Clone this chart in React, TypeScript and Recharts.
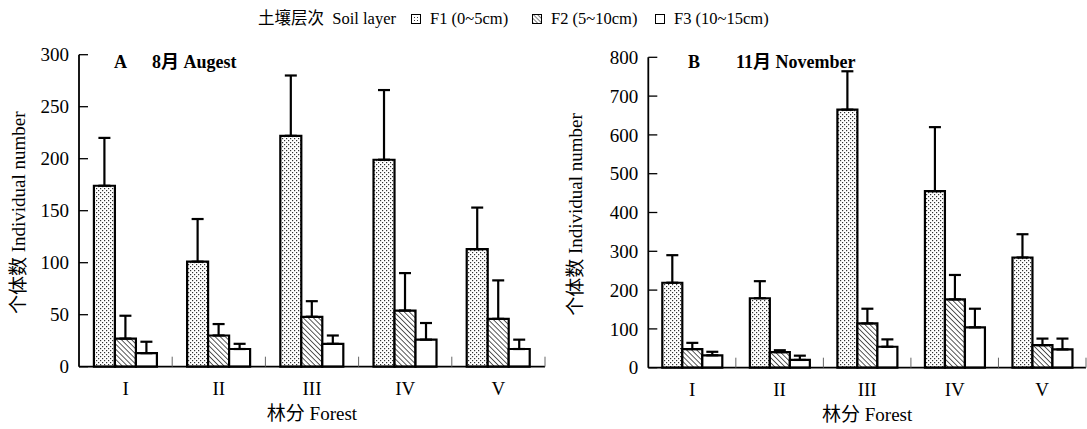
import { Bar, BarChart, ErrorBar, XAxis, YAxis } from "recharts";

const forests = ["I", "II", "III", "IV", "V"];

// August
const augF1 = [174, 101, 222, 199, 113];
const augF1Sd = [46, 41, 58, 67, 40];
const augF2 = [27, 30, 48, 54, 46];
const augF2Sd = [22, 11, 15, 36, 37];
const augF3 = [13, 17, 22, 26, 17];
const augF3Sd = [11, 5, 8, 16, 9];

// November
const novF1 = [219, 179, 665, 455, 284];
const novF1Sd = [71, 44, 99, 165, 60];
const novF2 = [48, 40, 114, 176, 58];
const novF2Sd = [16, 5, 38, 63, 17];
const novF3 = [32, 20, 54, 104, 47];
const novF3Sd = [9, 11, 19, 48, 28];

const augTicks = [0, 50, 100, 150, 200, 250, 300];
const novTicks = [0, 100, 200, 300, 400, 500, 600, 700, 800];

const font = "'Liberation Serif', 'Noto Sans CJK SC', serif";

type Row = {
  forest: string;
  f1: number;
  f2: number;
  f3: number;
  e1: number[];
  e2: number[];
  e3: number[];
};

function buildRows(
  f1: number[], s1: number[], f2: number[], s2: number[], f3: number[], s3: number[]
): Row[] {
  return forests.map((forest, i) => ({
    forest,
    f1: f1[i],
    f2: f2[i],
    f3: f3[i],
    // only the upper half of the error bar is drawn
    e1: [0, s1[i]],
    e2: [0, s2[i]],
    e3: [0, s3[i]],
  }));
}

const augData = buildRows(augF1, augF1Sd, augF2, augF2Sd, augF3, augF3Sd);
const novData = buildRows(novF1, novF1Sd, novF2, novF2Sd, novF3, novF3Sd);

const YTick = (props: any) => {
  const { x, y, payload } = props;
  return (
    <g>
      <line x1={x} x2={x + 9} y1={y} y2={y} stroke="#000" strokeWidth={1.3} />
      <text
        x={x - 10}
        y={y}
        dy="0.35em"
        textAnchor="end"
        fontSize={19}
        fontFamily={font}
        fill="#000"
      >
        {payload.value}
      </text>
    </g>
  );
};

const makeXTick = (band: number) => (props: any) => {
  const { x, y, payload } = props;
  return (
    <g>
      <line
        x1={x + band / 2}
        x2={x + band / 2}
        y1={y}
        y2={y - 10}
        stroke="#666"
        strokeWidth={1}
      />
      <text
        x={x}
        y={y + 28}
        textAnchor="middle"
        fontSize={19}
        fontFamily={font}
        fill="#000"
      >
        {payload.value}
      </text>
    </g>
  );
};

const Patterns = ({ id }: { id: string }) => (
  <defs>
    <pattern id={`dots${id}`} width={4} height={4} patternUnits="userSpaceOnUse">
      <rect width={4} height={4} fill="#fff" />
      <rect x={0} y={0} width={1.2} height={1.2} fill="#333" />
      <rect x={2} y={2} width={1.2} height={1.2} fill="#333" />
    </pattern>
    <pattern
      id={`hatch${id}`}
      width={3.6}
      height={3.6}
      patternUnits="userSpaceOnUse"
      patternTransform="rotate(-45)"
    >
      <rect width={3.6} height={3.6} fill="#fff" />
      <line x1={0} y1={0} x2={0} y2={3.6} stroke="#000" strokeWidth={1.3} />
    </pattern>
  </defs>
);

type PanelProps = {
  id: string;
  data: Row[];
  ticks: number[];
  max: number;
  width: number;
  axisWidth: number;
  top: number;
  bottom: number;
  right: number;
  labelX: number;
};

function Panel({ id, data, ticks, max, width, axisWidth, top, bottom, right, labelX }: PanelProps) {
  const plotWidth = width - axisWidth - right;
  const band = plotWidth / forests.length;
  const series = [
    { key: "f1", err: "e1", fill: `url(#dots${id})` },
    { key: "f2", err: "e2", fill: `url(#hatch${id})` },
    { key: "f3", err: "e3", fill: "#fff" },
  ];
  return (
    <BarChart
      width={width}
      height={429}
      data={data}
      margin={{ top, right, bottom, left: 0 }}
      barCategoryGap="16%"
      barGap={0}
    >
      <Patterns id={id} />
      <XAxis
        dataKey="forest"
        height={60}
        axisLine={{ stroke: "#000", strokeWidth: 1.8 }}
        tickLine={false}
        tickSize={0}
        tickMargin={0}
        interval={0}
        tick={makeXTick(band)}
        label={{
          content: (p: any) => {
            const vb = p.viewBox;
            return (
              <text
                x={vb.x + vb.width / 2}
                y={vb.y + 53}
                textAnchor="middle"
                fontSize={19}
                fontFamily={font}
                fill="#000"
              >
                林分 Forest
              </text>
            );
          },
        }}
      />
      <YAxis
        width={axisWidth}
        domain={[0, max]}
        ticks={ticks}
        interval={0}
        axisLine={{ stroke: "#000", strokeWidth: 1.8 }}
        tickLine={false}
        tickSize={0}
        tickMargin={0}
        tick={YTick}
        label={{
          content: (p: any) => {
            const vb = p.viewBox;
            const cx = vb.x + labelX;
            const cy = vb.y + vb.height / 2 + 2;
            return (
              <text
                x={cx}
                y={cy}
                transform={`rotate(-90 ${cx} ${cy})`}
                textAnchor="middle"
                dy="0.35em"
                fontSize={19}
                fontFamily={font}
                fill="#000"
              >
                个体数 Individual number
              </text>
            );
          },
        }}
      />
      {series.map((s) => (
        <Bar
          key={s.key}
          dataKey={s.key}
          fill={s.fill}
          stroke="#000"
          strokeWidth={2.2}
          isAnimationActive={false}
        >
          <ErrorBar
            dataKey={s.err}
            direction="y"
            width={6}
            stroke="#000"
            strokeWidth={2.2}
            isAnimationActive={false}
          />
        </Bar>
      ))}
    </BarChart>
  );
}

const Swatch = ({ kind }: { kind: string }) => (
  <svg width={10} height={10} style={{ display: "block" }}>
    <defs>
      <pattern id={`lg${kind}`} width={3} height={3} patternUnits="userSpaceOnUse"
        patternTransform={kind === "hatch" ? "rotate(-45)" : undefined}>
        <rect width={3} height={3} fill="#fff" />
        {kind === "dots" && <rect width={1} height={1} fill="#333" />}
        {kind === "hatch" && <line x1={0} y1={0} x2={0} y2={3} stroke="#000" strokeWidth={1} />}
      </pattern>
    </defs>
    <rect x={0.5} y={0.5} width={9} height={9} fill={kind === "none" ? "#fff" : `url(#lg${kind})`} stroke="#000" strokeWidth={1} />
  </svg>
);

const legendItems = [
  { kind: "dots", label: "F1 (0~5cm)", x: 411 },
  { kind: "hatch", label: "F2 (5~10cm)", x: 532 },
  { kind: "none", label: "F3 (10~15cm)", x: 655 },
];

const abs = (left: number, top: number, size = 16): React.CSSProperties => ({
  position: "absolute",
  left,
  top,
  fontFamily: font,
  fontSize: size,
  color: "#000",
  whiteSpace: "nowrap",
  lineHeight: "20px",
});

export default function App() {
  return (
    <div
      style={{
        position: "absolute",
        left: 0,
        top: 0,
        width: 1087,
        height: 429,
        background: "#fff",
        overflow: "hidden",
      }}
    >
      <div style={{ position: "absolute", left: 0, top: 0 }}>
        <Panel
          id="A"
          data={augData}
          ticks={augTicks}
          max={300}
          width={560}
          axisWidth={79}
          top={54.7}
          bottom={2.3}
          right={15}
          labelX={18}
        />
      </div>
      <div style={{ position: "absolute", left: 560, top: 0 }}>
        <Panel
          id="B"
          data={novData}
          ticks={novTicks}
          max={800}
          width={527}
          axisWidth={88.3}
          top={57.3}
          bottom={1.3}
          right={1}
          labelX={15}
        />
      </div>

      <div style={abs(258, 9, 16.5)}>土壤层次&nbsp; Soil layer</div>
      {legendItems.map((it) => (
        <div
          key={it.kind}
          style={{ ...abs(it.x, 9, 16.5), display: "flex", alignItems: "center", gap: 9 }}
        >
          <Swatch kind={it.kind} />
          <span>{it.label}</span>
        </div>
      ))}

      <div style={{ ...abs(114, 52, 18), fontWeight: "bold" }}>A</div>
      <div style={{ ...abs(152, 52, 18), fontWeight: "bold" }}>8月 Augest</div>
      <div style={{ ...abs(688, 52, 18), fontWeight: "bold" }}>B</div>
      <div style={{ ...abs(736, 52, 18), fontWeight: "bold" }}>11月 November</div>
    </div>
  );
}
